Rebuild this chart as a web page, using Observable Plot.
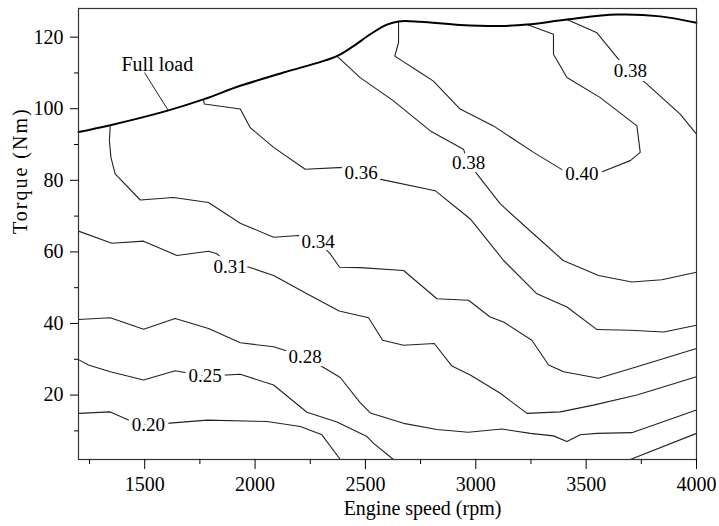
<!DOCTYPE html>
<html><head><meta charset="utf-8">
<script src="https://cdn.jsdelivr.net/npm/d3@7"></script>
<script src="https://cdn.jsdelivr.net/npm/@observablehq/plot@0.6"></script>
<style>body{margin:0;background:#fff}</style>
</head><body><div id="chart"></div>
<script>
// Full load curve [rpm, torque Nm]
const fullLoad = [[1200,93.5],[1344,95.4],[1600,99.4],[1766,102.6],[1933,106.4],[2129,110.1],[2371,114.7],[2446,117.5],[2522,120.8],[2597,123.5],[2650,124.4],[2748,124.3],[2929,123.4],[3111,123.1],[3232,123.5],[3413,124.9],[3639,126.3],[3836,125.8],[4000,124.0]];

// Contour lines [rpm, torque Nm]
const c040 = [[2650,124.4],[2650,118.5],[2633,114.7],[2748,110.1],[2808,107.7],[2929,99.9],[3080,95.2],[3262,87.8],[3398,82.7],[3481,81.8],[3564,82.2],[3700,85.5],[3745,87.8],[3730,95.2],[3564,103.1],[3413,108.7],[3352,115.2],[3352,120.8],[3232,123.5]];
const c038a = [[2371,114.7],[2476,108.7],[2627,102.2],[2794,93.8],[2944,88.7],[2967,85.0],[3005,81.8],[3111,73.4],[3262,65.0],[3396,57.6],[3556,53.4],[3707,51.6],[3843,52.2],[4000,54.3]];
const c038b = [[3413,124.9],[3549,121.2],[3647,113.8],[3700,110.5],[3768,107.3],[3926,98.5],[4000,92.9]];
const c036 = [[1766,102.6],[1770,101.3],[1933,99.9],[1978,94.7],[2084,89.2],[2227,83.1],[2401,83.6],[2481,82.1],[2559,80.4],[2816,77.1],[2975,69.2],[3065,62.3],[3126,57.6],[3277,48.3],[3413,44.6],[3549,38.3],[3700,38.1],[3851,37.6],[4000,39.5]];
const c034 = [[1344,95.4],[1340,91.0],[1347,86.4],[1366,81.8],[1480,74.5],[1630,75.2],[1789,73.8],[1933,68.0],[2084,64.1],[2197,64.6],[2286,62.9],[2340,59.5],[2383,55.7],[2476,55.6],[2673,54.8],[2824,46.9],[2967,46.5],[3065,41.8],[3126,40.4],[3254,35.3],[3330,28.4],[3398,26.5],[3556,24.7],[3730,27.9],[4000,33.0]];
const c031 = [[1200,65.8],[1351,62.4],[1495,63.0],[1646,59.0],[1789,60.2],[1827,59.5],[1887,55.9],[1970,55.8],[2084,53.4],[2235,48.3],[2381,43.5],[2514,41.6],[2578,35.3],[2673,33.9],[2812,34.4],[2892,28.1],[2975,25.6],[3111,20.5],[3232,14.9],[3383,15.3],[3533,17.2],[3730,20.0],[4000,25.1]];
const c028 = [[1200,41.1],[1344,41.6],[1495,38.4],[1638,41.4],[1789,38.6],[1933,34.6],[2084,33.5],[2227,30.7],[2303,28.0],[2386,24.9],[2476,17.9],[2522,15.0],[2673,12.1],[2824,10.4],[2966,9.6],[3118,10.5],[3247,9.3],[3352,8.6],[3413,7.0],[3473,8.9],[3549,9.3],[3707,9.5],[4000,15.8]];
const c025a = [[1200,29.9],[1245,28.4],[1344,26.5],[1495,24.2],[1638,26.8],[1774,25.3],[1933,25.8],[2084,22.8],[2235,15.2],[2371,12.5],[2507,8.4],[2537,6.5],[2627,2.0]];
const c025b = [[3700,2.0],[4000,9.3]];
const c020 = [[1200,14.9],[1344,15.3],[1442,12.6],[1517,11.6],[1600,12.1],[1782,13.0],[2054,12.6],[2205,11.2],[2303,8.9],[2386,2.0]];

// Contour labels
const labelText = ["0.20","0.25","0.28","0.31","0.34","0.36","0.38","0.40","0.38"];
const labelRpm = [1517,1774,2227,1887,2286,2481,2967,3481,3700];
const labelNm = [11.6,25.3,30.7,55.9,62.9,82.1,85.0,81.8,110.5];

// Full load annotation
const noteText = ["Full load"];
const noteRpm = [1557];
const noteNm = [112.3];
const leader = [{x1: 1499, y1: 110.1, x2: 1608, y2: 99.4}];

// Axis ticks
const xMajor = [1500,2000,2500,3000,3500,4000];
const xMinor = [1250,1750,2250,2750,3250,3750];
const yMajor = [20,40,60,80,100,120];
const yMinor = [10,30,50,70,90,110];

const serif = "'Liberation Serif', 'Times New Roman', serif";
const contours = [["c040",c040],["c038a",c038a],["c038b",c038b],["c036",c036],["c034",c034],["c031",c031],["c028",c028],["c025a",c025a],["c025b",c025b],["c020",c020]];
const rows = [];
contours.forEach(([id, pts]) => pts.forEach(([x, y]) => rows.push({id, rpm: x, torque: y})));
const fl = fullLoad.map(([x, y]) => ({rpm: x, torque: y}));
const labels = labelText.map((t, i) => ({t, rpm: labelRpm[i], torque: labelNm[i]}));

const chart = Plot.plot({
  width: 719, height: 526,
  marginLeft: 78, marginRight: 23, marginTop: 8, marginBottom: 67,
  x: {domain: [1200, 4000], label: null},
  y: {domain: [2, 128], label: null},
  style: {fontFamily: serif, fontSize: "20px", color: "#000", background: "#fff"},
  marks: [
    Plot.line(rows, {x: "rpm", y: "torque", z: "id", stroke: "#222", strokeWidth: 1.1}),
    Plot.line(fl, {x: "rpm", y: "torque", stroke: "#000", strokeWidth: 2, curve: "catmull-rom"}),
    Plot.text(labels, {x: "rpm", y: "torque", text: "t", fill: "#000", stroke: "#fff", strokeWidth: 8, fontSize: 19, fontFamily: serif}),
    Plot.link(leader, {x1: "x1", y1: "y1", x2: "x2", y2: "y2", stroke: "#222", strokeWidth: 1}),
    Plot.text(noteText, {x: noteRpm, y: noteNm, text: d => d, fill: "#000", fontSize: 20, fontFamily: serif}),
    Plot.frame({stroke: "#333", strokeWidth: 1.2}),
    Plot.axisX({ticks: xMajor, tickSize: 10, tickPadding: 7, tickFormat: d => String(d), label: null, fontSize: 20, fontFamily: serif}),
    Plot.axisX({ticks: xMinor, tickSize: 5, tickFormat: () => "", label: null}),
    Plot.axisY({ticks: yMajor, tickSize: 8, tickPadding: 7, tickFormat: d => String(d), label: null, fontSize: 20, fontFamily: serif}),
    Plot.axisY({ticks: yMinor, tickSize: 4, tickFormat: () => "", label: null}),
    Plot.text(["Engine speed (rpm)"], {frameAnchor: "bottom", dx: 35, dy: 55, text: d => d, fontSize: 20, fontFamily: serif}),
    Plot.text(["Torque (Nm)"], {frameAnchor: "left", dx: -58, rotate: -90, text: d => d, fontSize: 20, fontFamily: serif})
  ]
});
d3.select(chart).selectAll("text").filter(function() { return this.textContent === "Torque (Nm)"; }).attr("letter-spacing", "2px");
document.getElementById("chart").append(chart);
</script></body></html>
